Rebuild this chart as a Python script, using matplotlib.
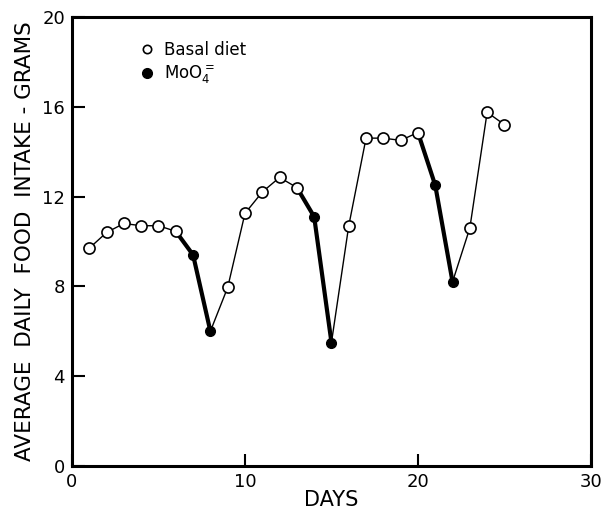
import numpy as np
import matplotlib.pyplot as plt
from matplotlib.lines import Line2D

# data
days = [1, 2, 3, 4, 5, 6, 7, 8, 9, 10, 11, 12, 13, 14, 15, 16, 17, 18, 19, 20, 21, 22, 23, 24, 25]
intake = [9.7, 10.4, 10.8, 10.7, 10.7, 10.45, 9.4, 6.0, 7.95, 11.25, 12.2, 12.85, 12.4, 11.1, 5.5,
          10.7, 14.6, 14.6, 14.5, 14.85, 12.5, 8.2, 10.6, 15.75, 15.2]
molybdate = [0, 0, 0, 0, 0, 0, 1, 1, 0, 0, 0, 0, 0, 1, 1, 0, 0, 0, 0, 0, 1, 1, 0, 0, 0]

days = np.array(days)
intake = np.array(intake)
molybdate = np.array(molybdate, dtype=bool)

fig = plt.figure(figsize=(6.02, 5.11), dpi=100)
ax = fig.add_axes([0.1196, 0.088, 0.862, 0.879])

# thin line through everything
ax.plot(days, intake, color='black', linewidth=1.0, zorder=1)

# thick segments leading into molybdate days
for i in np.where(molybdate)[0]:
    ax.plot(days[i - 1:i + 1], intake[i - 1:i + 1], color='black', linewidth=3.0,
            solid_capstyle='round', zorder=2)

# markers
ax.plot(days[~molybdate], intake[~molybdate], linestyle='none', marker='o',
        markersize=8, markerfacecolor='white', markeredgecolor='black',
        markeredgewidth=1.2, zorder=3)
ax.plot(days[molybdate], intake[molybdate], linestyle='none', marker='o',
        markersize=7, markerfacecolor='black', markeredgecolor='black', zorder=3)

ax.set_xlim(0, 30)
ax.set_ylim(0, 20)
ax.set_xticks([0, 10, 20, 30])
ax.set_yticks([0, 4, 8, 12, 16, 20])
ax.tick_params(direction='in', length=9, width=1.5, labelsize=13, pad=5,
               top=False, right=False)
ax.set_xticklabels(['0', '10', '20', '30'], ha='center')

for s in ax.spines.values():
    s.set_linewidth(2.2)

ax.set_xlabel('DAYS', fontsize=15, labelpad=-1)
ax.set_ylabel('AVERAGE  DAILY  FOOD  INTAKE - GRAMS', fontsize=15.5, labelpad=5)

handles = [
    Line2D([], [], linestyle='none', marker='o', markersize=6,
           markerfacecolor='white', markeredgecolor='black', markeredgewidth=1.2),
    Line2D([], [], linestyle='none', marker='o', markersize=7,
           markerfacecolor='black', markeredgecolor='black'),
]
labels = ['Basal diet', r'MoO$_4^{=}$']
ax.legend(handles, labels, loc='upper left', bbox_to_anchor=(0.1, 0.98),
          frameon=False, fontsize=12, handlelength=1.0, handletextpad=0.5,
          labelspacing=0.3)

plt.savefig('out.png', dpi=100)
plt.close()
